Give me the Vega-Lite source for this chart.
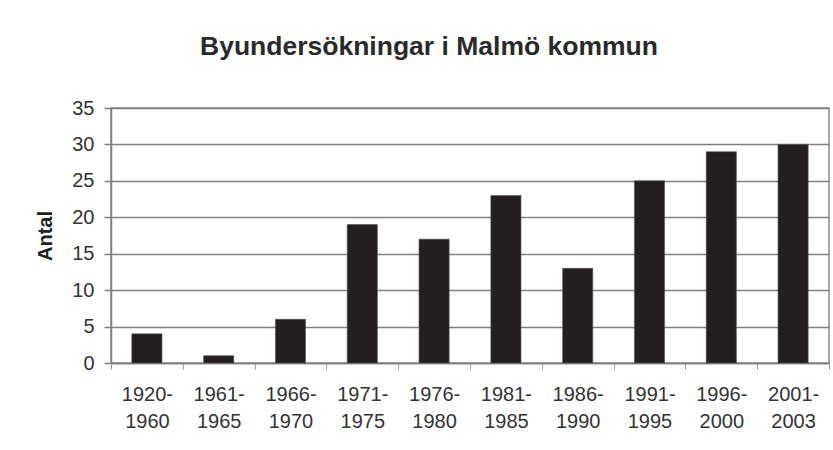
{
  "$schema": "https://vega.github.io/schema/vega-lite/v6.json",
  "width": 718,
  "height": 255,
  "autosize": "none",
  "padding": {"left": 111, "top": 108, "right": 4, "bottom": 87},
  "background": "white",
  "title": {
    "text": "Byundersökningar i Malmö kommun",
    "font": "Liberation Sans",
    "fontSize": 26.5,
    "fontWeight": "bold",
    "color": "#2a2a2a",
    "anchor": "middle",
    "dx": -41,
    "baseline": "alphabetic",
    "offset": 17
  },
  "data": {
    "values": [
      {"period": "1920-1960", "antal": 4},
      {"period": "1961-1965", "antal": 1},
      {"period": "1966-1970", "antal": 6},
      {"period": "1971-1975", "antal": 19},
      {"period": "1976-1980", "antal": 17},
      {"period": "1981-1985", "antal": 23},
      {"period": "1986-1990", "antal": 13},
      {"period": "1991-1995", "antal": 25},
      {"period": "1996-2000", "antal": 29},
      {"period": "2001-2003", "antal": 30}
    ]
  },
  "mark": {"type": "bar", "color": "#231f20", "width": {"band": 0.42}, "stroke": "#555", "strokeWidth": 0.6},
  "encoding": {
    "x": {
      "field": "period",
      "type": "nominal",
      "sort": null,
      "scale": {"paddingInner": 0, "paddingOuter": 0},
      "axis": {
        "title": null,
        "labelAngle": 0,
        "tickBand": "extent",
        "labelExpr": "[slice(datum.label, 0, 5), slice(datum.label, 5)]",
        "labelFont": "Liberation Sans",
        "labelFontSize": 20,
        "labelColor": "#333333",
        "labelLineHeight": 27,
        "labelPadding": 15,
        "tickSize": 6,
        "tickColor": "#9a9a9a",
        "domainColor": "#808080",
        "domainWidth": 1.5,
        "grid": false
      }
    },
    "y": {
      "field": "antal",
      "type": "quantitative",
      "scale": {"domain": [0, 35], "nice": false},
      "axis": {
        "title": "Antal",
        "titleFont": "Liberation Sans",
        "titleFontSize": 20,
        "titleFontWeight": "bold",
        "titleColor": "#222222",
        "titlePadding": 16,
        "values": [0, 5, 10, 15, 20, 25, 30, 35],
        "labelFont": "Liberation Sans",
        "labelFontSize": 20,
        "labelColor": "#333333",
        "labelPadding": 10,
        "tickSize": 7,
        "tickColor": "#808080",
        "tickWidth": 1.5,
        "domainColor": "#808080",
        "domainWidth": 1.5,
        "grid": true,
        "gridColor": "#808080",
        "gridWidth": 1.5
      }
    }
  },
  "config": {
    "view": {"stroke": "#8a8a8a", "strokeWidth": 1.5}
  }
}
